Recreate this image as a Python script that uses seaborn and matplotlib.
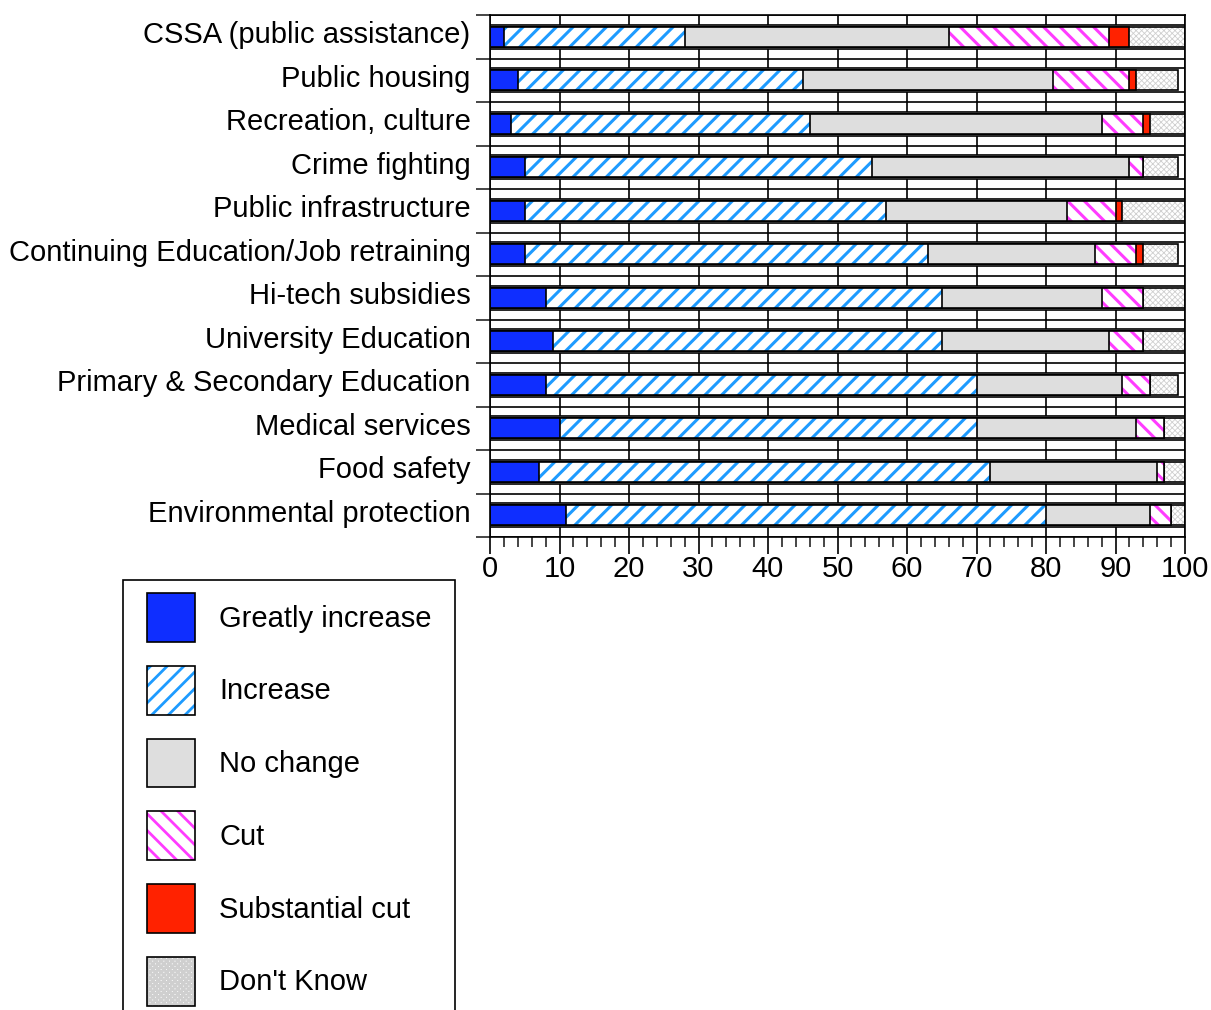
import numpy as np
import pandas as pd
import seaborn as sns
import matplotlib.pyplot as plt
from matplotlib.patches import Patch, Rectangle
from matplotlib.legend_handler import HandlerTuple

# ---------- data ----------
categories = [
    'CSSA (public assistance)', 'Public housing', 'Recreation, culture',
    'Crime fighting', 'Public infrastructure',
    'Continuing Education/Job retraining', 'Hi-tech subsidies',
    'University Education', 'Primary & Secondary Education',
    'Medical services', 'Food safety', 'Environmental protection',
]
greatly_increase = [2, 4, 3, 5, 5, 5, 8, 9, 8, 10, 7, 11]
increase         = [26, 41, 43, 50, 52, 58, 57, 56, 62, 60, 65, 69]
no_change        = [38, 36, 42, 37, 26, 24, 23, 24, 21, 23, 24, 15]
cut              = [23, 11, 6, 2, 7, 6, 6, 5, 4, 4, 1, 3]
substantial_cut  = [3, 1, 1, 0, 1, 1, 0, 0, 0, 0, 0, 0]
dont_know        = [8, 6, 5, 5, 9, 5, 6, 6, 4, 3, 3, 2]

series = ['Greatly increase', 'Increase', 'No change', 'Cut',
          'Substantial cut', "Don't Know"]
df = pd.DataFrame(dict(zip(series, [greatly_increase, increase, no_change,
                                     cut, substantial_cut, dont_know])),
                  index=categories)
cum = df.cumsum(axis=1)

# ---------- styles ----------
faces   = ['#0F2EFF', 'white', '#DEDEDE', 'white', '#FF2200', 'white']
hatches = [None, '//', None, '\\\\', None, 'xxxxxx']
hcolors = [None, '#1E9BFF', None, '#FF3CFF', None, '#CFCFCF']
hwidths = [None, 2.2, None, 2.2, None, 0.6]
LW = 1.2
FS = 21

sns.set_theme(style='white')
plt.rcParams['font.family'] = ['Liberation Sans', 'DejaVu Sans']
plt.rcParams['hatch.linewidth'] = 2.0
plt.rcParams['text.color'] = 'black'


def style_hatch(p, i):
    p.set_hatch(hatches[i])
    p.set_edgecolor(hcolors[i])
    p.set_linewidth(0)
    if hasattr(p, 'set_hatch_linewidth'):
        p.set_hatch_linewidth(hwidths[i])


fig = plt.figure(figsize=(12.11, 10.10), dpi=100)
ax = fig.add_axes([490 / 1211, 1 - 537 / 1010, 695 / 1211, 522 / 1010])

# white frames behind each bar
sns.barplot(x=[100] * len(categories), y=categories, orient='y', color='white',
            width=0.55, edgecolor='black', linewidth=LW, saturation=1,
            errorbar=None, ax=ax)

# stacked bars: draw cumulative totals from the longest to the shortest
for i in reversed(range(len(series))):
    n0 = len(ax.patches)
    sns.barplot(x=cum[series[i]].values, y=categories, orient='y',
                color=faces[i], width=0.46, edgecolor='black', linewidth=LW,
                saturation=1, errorbar=None, ax=ax)
    if hatches[i]:
        for p in ax.patches[n0:]:
            style_hatch(p, i)
            ax.add_patch(Rectangle(p.get_xy(), p.get_width(), p.get_height(),
                                   fill=False, edgecolor='black', lw=LW))

ax.set_xlim(0, 100)
ax.set_ylim(len(categories) - 0.5, -0.5)
ax.set_xlabel('')
ax.set_ylabel('')
ax.set_xticks(np.arange(0, 101, 10))
ax.set_xticks(np.arange(0, 101, 2), minor=True)
# labels sit a little above the bar centres in the original
ax.set_yticks(np.arange(len(categories)) - 0.1, labels=categories)
ax.set_yticks(np.arange(-0.5, len(categories), 1), minor=True)
ax.tick_params(axis='x', which='major', length=12, width=LW, labelsize=FS,
               pad=1, colors='black', bottom=True)
ax.tick_params(axis='x', which='minor', length=7, width=LW, bottom=True)
ax.tick_params(axis='y', which='major', length=0, pad=14, labelsize=FS,
               colors='black')
ax.tick_params(axis='y', which='minor', length=10, width=LW, left=True)
ax.set_axisbelow(True)
ax.grid(True, axis='x', which='major', color='black', lw=LW)
ax.grid(False, axis='y', which='major')
ax.grid(True, axis='y', which='minor', color='black', lw=LW)
for s in ax.spines.values():
    s.set_visible(True)
    s.set_color('black')
    s.set_linewidth(LW)

# legend (frame drawn by hand, it runs off the bottom of the figure)
handles = []
for i, (f, h) in enumerate(zip(faces, hatches)):
    if h:
        hp = Patch(facecolor='white', hatch=h, lw=0)
        style_hatch(hp, i)
        handles.append((hp, Patch(facecolor='none', edgecolor='black', lw=LW)))
    else:
        handles.append(Patch(facecolor=f, edgecolor='black', lw=LW))
leg = fig.legend(handles, series, loc='upper left',
                 bbox_to_anchor=(147 / 1211, 1 - 593 / 1010),
                 handler_map={tuple: HandlerTuple(ndivide=1, pad=0)},
                 fontsize=FS, handlelength=1.65, handleheight=2.2,
                 labelspacing=0.82, handletextpad=0.82, borderpad=0,
                 borderaxespad=0, frameon=False)
for t in leg.get_texts():
    t.set_color('black')
fig.add_artist(Rectangle((123 / 1211, -0.05), 332 / 1211, 0.05 + 1 - 580 / 1010,
                         transform=fig.transFigure, fill=False,
                         edgecolor='black', lw=LW))

fig.savefig('out.png', dpi=100)
